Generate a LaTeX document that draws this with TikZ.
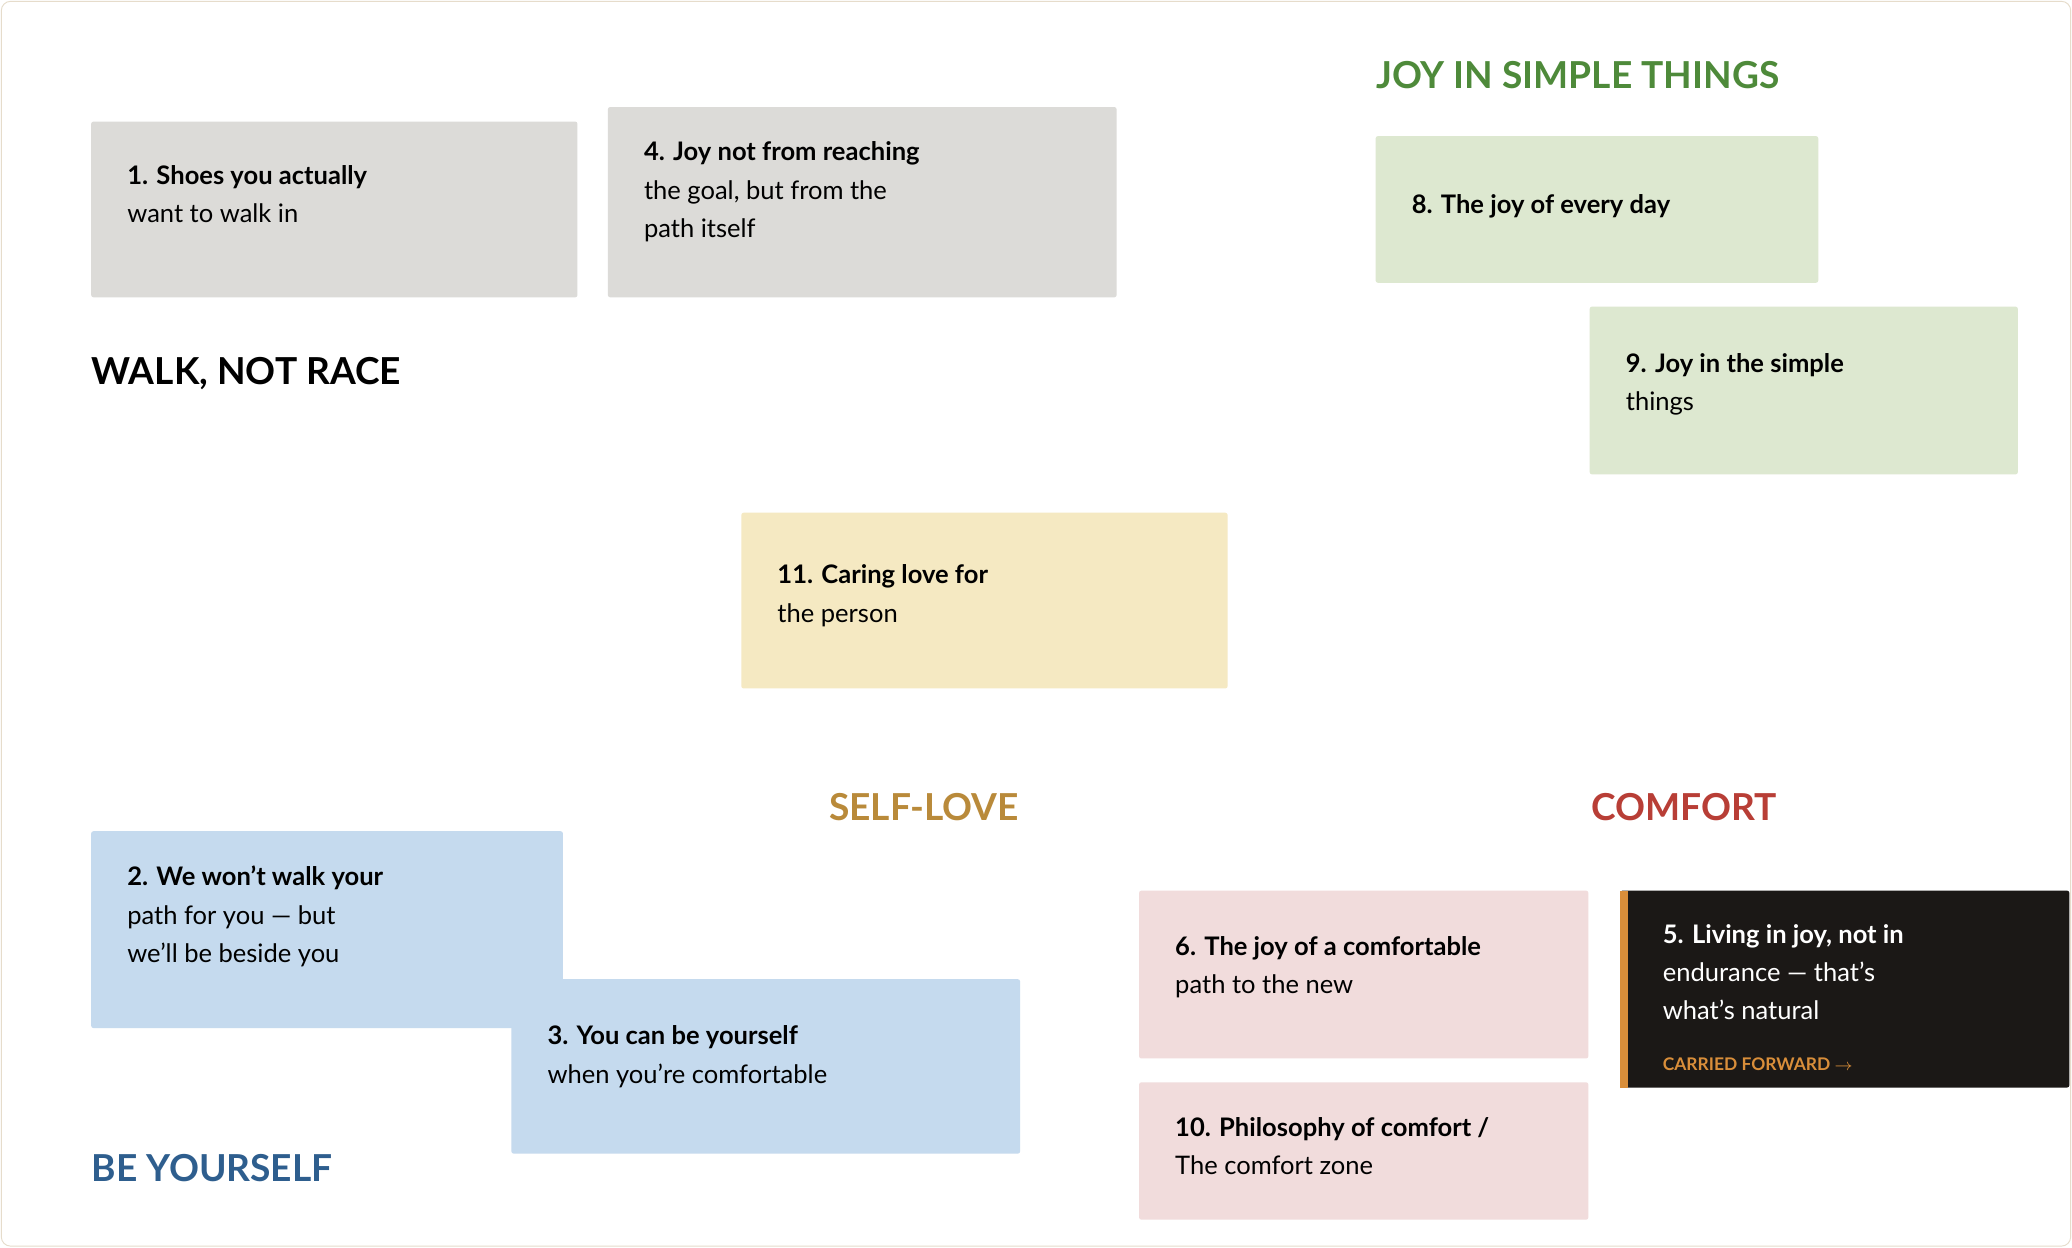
\documentclass[tikz,border=0pt]{standalone}
\usepackage{fontspec}
\setmainfont{Lato}
\definecolor{grayfill}{HTML}{DCDBD8}
\definecolor{greenfill}{HTML}{DDE8D0}
\definecolor{yellowfill}{HTML}{F5E9C2}
\definecolor{bluefill}{HTML}{C5DAEE}
\definecolor{pinkfill}{HTML}{F1DCDC}
\definecolor{darkfill}{HTML}{1B1816}
\definecolor{orangebar}{HTML}{D98E3A}
\definecolor{joygreen}{HTML}{4E8A3A}
\definecolor{selfgold}{HTML}{B98A3A}
\definecolor{comfortred}{HTML}{B83E36}
\definecolor{beblue}{HTML}{2E5E8E}
\definecolor{frame}{HTML}{E6DCCB}
\begin{document}
\begin{tikzpicture}[x=0.02cm,y=-0.02cm,
  card/.style={rounded corners=1pt},
  card text/.style={anchor=north west, align=left, inner sep=0pt, font=\fontsize{11}{16.5}\selectfont},
  group label/.style={anchor=west, inner sep=0pt, font=\fontsize{16}{18}\selectfont\bfseries}]
  % frame
  \fill[white] (0,0) rectangle (1568,944);
  \draw[frame, rounded corners=4pt] (1,1) rectangle (1567,943);
  \useasboundingbox (0,0) rectangle (1568,944);

  % cards
  \fill[card, grayfill] (69,92) rectangle (437,225);
  \node[card text] (shoes) at (96,125) {\textbf{1. Shoes you actually}\\want to walk in};
  \fill[card, grayfill] (460,81) rectangle (845,225);
  \node[card text] (goal) at (487,107) {\textbf{4. Joy not from reaching}\\the goal, but from the\\path itself};
  \fill[card, greenfill] (1041,103) rectangle (1376,214);
  \node[card text] (everyday) at (1068,147) {\textbf{8. The joy of every day}};
  \fill[card, greenfill] (1203,232) rectangle (1527,359);
  \node[card text] (simple) at (1230,267) {\textbf{9. Joy in the simple}\\things};
  \fill[card, yellowfill] (561,388) rectangle (929,521);
  \node[card text] (caring) at (588,427) {\textbf{11. Caring love for}\\the person};
  \fill[card, bluefill] (69,629) rectangle (426,778);
  \node[card text] (beside) at (96,655) {\textbf{2. We won't walk your}\\path for you — but\\we'll be beside you};
  \fill[card, bluefill] (387,741) rectangle (772,873);
  \node[card text] (yourself) at (414,776) {\textbf{3. You can be yourself}\\when you're comfortable};
  \fill[card, pinkfill] (862,674) rectangle (1202,801);
  \node[card text] (comfnew) at (889,708) {\textbf{6. The joy of a comfortable}\\path to the new};
  \fill[card, pinkfill] (862,819) rectangle (1202,923);
  \node[card text] (zone) at (889,845) {\textbf{10. Philosophy of comfort /}\\The comfort zone};
  \fill[card, darkfill] (1226,674) rectangle (1566,823);
  \fill[orangebar] (1226,674) rectangle (1232,823);
  \node[card text, text=white] (natural) at (1258,699) {\textbf{5. Living in joy, not in}\\endurance — that's\\what's natural};
  \node[anchor=west, inner sep=0pt, text=orangebar, font=\fontsize{7.5}{9}\selectfont\bfseries] (carried) at (1258,805) {CARRIED FORWARD $\rightarrow$};

  % group labels
  \node[group label, text=joygreen] (joy) at (1041,57) {JOY IN SIMPLE THINGS};
  \node[group label, text=black] (walk) at (69,283) {WALK, NOT RACE};
  \node[group label, text=selfgold] (selflove) at (627,611) {SELF-LOVE};
  \node[group label, text=comfortred] (comfort) at (1204,611) {COMFORT};
  \node[group label, text=beblue] (be) at (69,884) {BE YOURSELF};
\end{tikzpicture}
\end{document}
